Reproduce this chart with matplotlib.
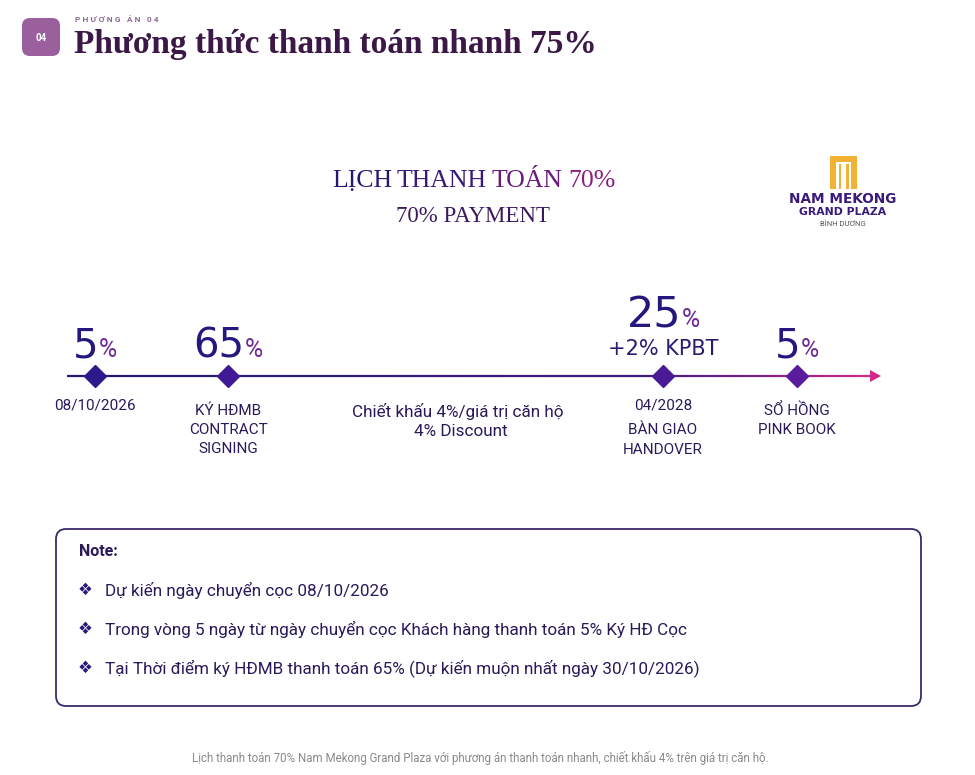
import matplotlib
matplotlib.use("Agg")
import numpy as np
import matplotlib.pyplot as plt
from matplotlib.patches import FancyBboxPatch, Polygon, Rectangle
from matplotlib.collections import LineCollection
from matplotlib.colors import LinearSegmentedColormap

# --- data ---
plan_tag = "PHƯƠNG ÁN 04"
plan_no = "04"
page_title = "Phương thức thanh toán nhanh 75%"
sched_words = ["LỊCH", "THANH", "TOÁN", "70%"]
sched_sub = "70% PAYMENT"

pcts = ["5", "65", "25", "5"]
pct_extra = ["", "", "+2% KPBT", ""]
step_labels = [
    ["08/10/2026"],
    ["KÝ HĐMB", "CONTRACT", "SIGNING"],
    ["04/2028", "BÀN GIAO", "HANDOVER"],
    ["SỔ HỒNG", "PINK BOOK"],
]
step_x = [95, 228, 663, 797]
discount_txt = ["Chiết khấu 4%/giá trị căn hộ", "4% Discount"]

notes = [
    "Dự kiến ngày chuyển cọc 08/10/2026",
    "Trong vòng 5 ngày từ ngày chuyển cọc Khách hàng thanh toán 5% Ký HĐ Cọc",
    "Tại Thời điểm ký HĐMB thanh toán 65% (Dự kiến muộn nhất ngày 30/10/2026)",
]
caption = ("Lịch thanh toán 70% Nam Mekong Grand Plaza với phương án thanh toán nhanh, "
           "chiết khấu 4% trên giá trị căn hộ.")

NAVY = "#24187e"
PURP = "#6e2a92"
SANS = ["Roboto", "DejaVu Sans"]
SERIF = ["Liberation Serif", "DejaVu Serif"]

fig = plt.figure(figsize=(9.75, 7.75), dpi=100)
ax = fig.add_axes([0, 0, 1, 1])
ax.set_xlim(0, 975)
ax.set_ylim(775, 0)
ax.axis("off")
rend = fig.canvas.get_renderer()


def width_of(t):
    bb = t.get_window_extent(renderer=rend)
    return bb.width  # 1 px == 1 data unit here


# header badge
ax.add_patch(FancyBboxPatch((24, 20), 34, 34, boxstyle="round,pad=2,rounding_size=8",
                            fc="#9c5f9e", ec="none"))
ax.text(41, 38, plan_no, color="white", fontsize=7, fontweight="bold",
        ha="center", va="center", family=SANS)
ax.text(75, 19, " ".join(plan_tag), color="#8c6c96",
        fontsize=6, fontweight="bold", va="center", family=SANS)
ax.text(74, 44, page_title, color="#3b1846", fontsize=24, fontweight="bold",
        va="center", family=SERIF)

# schedule title, word by word from navy to magenta
word_cols = ["#221a72", "#3a1a78", "#6a1a7c", "#8a1f7e"]
xpos = 332
for w, c in zip(sched_words, word_cols):
    t = ax.text(xpos, 181, w, color=c, fontsize=18.5, va="center", ha="left",
                family=SERIF)
    xpos += width_of(t) + 5
ax.text(473, 217, sched_sub, color="#3c1a5e", fontsize=16.5, va="center",
        ha="center", family=SERIF)

# logo
gold = "#f2b335"
for r in [(830, 156, 6, 33), (851, 156, 6, 33), (830, 156, 27, 6),
          (838.5, 164, 2.5, 25), (846, 164, 2.5, 25)]:
    ax.add_patch(Rectangle(r[:2], r[2], r[3], fc=gold, ec="none"))
ax.text(843, 199, "NAM MEKONG", color="#3a1a7a", fontsize=9.8, fontweight="bold",
        ha="center", va="center", family=["DejaVu Sans"])
ax.text(843, 212, "GRAND PLAZA", color="#3a1a7a", fontsize=7.8, fontweight="bold",
        ha="center", va="center", family=["DejaVu Sans"])
ax.text(843, 224, "BÌNH DƯƠNG", color="#555555", fontsize=5.5,
        ha="center", va="center", family=SANS)

# timeline with gradient
cmap = LinearSegmentedColormap.from_list("tl", [(0, "#241a6e"), (0.72, "#3e1c7c"),
                                               (0.86, "#7a2288"), (1, "#d02a86")])
xs = np.linspace(67, 872, 200)
segs = np.stack([np.column_stack([xs[:-1], np.full(199, 376)]),
                 np.column_stack([xs[1:], np.full(199, 376)])], axis=1)
lc = LineCollection(segs, colors=cmap(np.linspace(0, 1, 199)), linewidths=1.6)
ax.add_collection(lc)
ax.add_patch(Polygon([(870, 370), (881, 376), (870, 382)], fc="#d02a86", ec="none"))

dcols = ["#2c1a8a", "#3f1a94", "#4a1a96", "#5a1c9c"]
for x, p, ex, labs, dc in zip(step_x, pcts, pct_extra, step_labels, dcols):
    ax.plot(x, 376, marker="D", ms=11.5, color=dc, mec=dc)
    base = 327 if ex else 357
    nfs = 31 if ex else 29
    num = ax.text(x, base, p, color=NAVY, fontsize=nfs, ha="left", va="baseline",
                  family=["DejaVu Sans"])
    pc = ax.text(x, base, "%", color=PURP, fontsize=18, ha="left", va="baseline",
                 family=SANS)
    wn, wp = width_of(num), width_of(pc)
    left = x - (wn + wp) / 2
    num.set_x(left)
    pc.set_x(left + wn + 0.5)
    if ex:
        ax.text(x, 349, ex, color="#2a1a70", fontsize=15, ha="center", va="center",
                family=["DejaVu Sans"])
    dated = labs[0][0].isdigit()
    for i, lab in enumerate(labs):
        if dated:
            yy = 406 if i == 0 else 430 + (i - 1) * 20
        else:
            yy = 411 + i * 19
        ax.text(x, yy, lab, color="#2a1a5a", fontsize=11, ha="center", va="center",
                family=SANS)

ax.text(458, 411, discount_txt[0], color="#2a1a5a", fontsize=12.3, ha="center",
        va="center", family=SANS)
ax.text(461, 432, discount_txt[1], color="#2a1a5a", fontsize=12.3, ha="center",
        va="center", family=SANS)

# note box
ax.add_patch(FancyBboxPatch((60, 533), 857, 169, boxstyle="round,pad=4,rounding_size=10",
                            fc="white", ec="#3a2a6a", lw=1.3))
ax.text(79, 552, "Note:", color="#2a1a5a", fontsize=11.5, fontweight="bold",
        va="center", family=SANS)
for i, n in enumerate(notes):
    yy = 590 + i * 39
    ax.text(78, yy, "❖", color="#2a1a7a", fontsize=12, va="center", family=["DejaVu Sans"])
    ax.text(105, yy, n, color="#2a1a5a", fontsize=12.3, va="center", family=SANS)

ax.text(480, 758, caption, color="#8a8a8a", fontsize=8.3, ha="center", va="center",
        family=SANS)

fig.savefig("out.png", dpi=100, facecolor="white")
